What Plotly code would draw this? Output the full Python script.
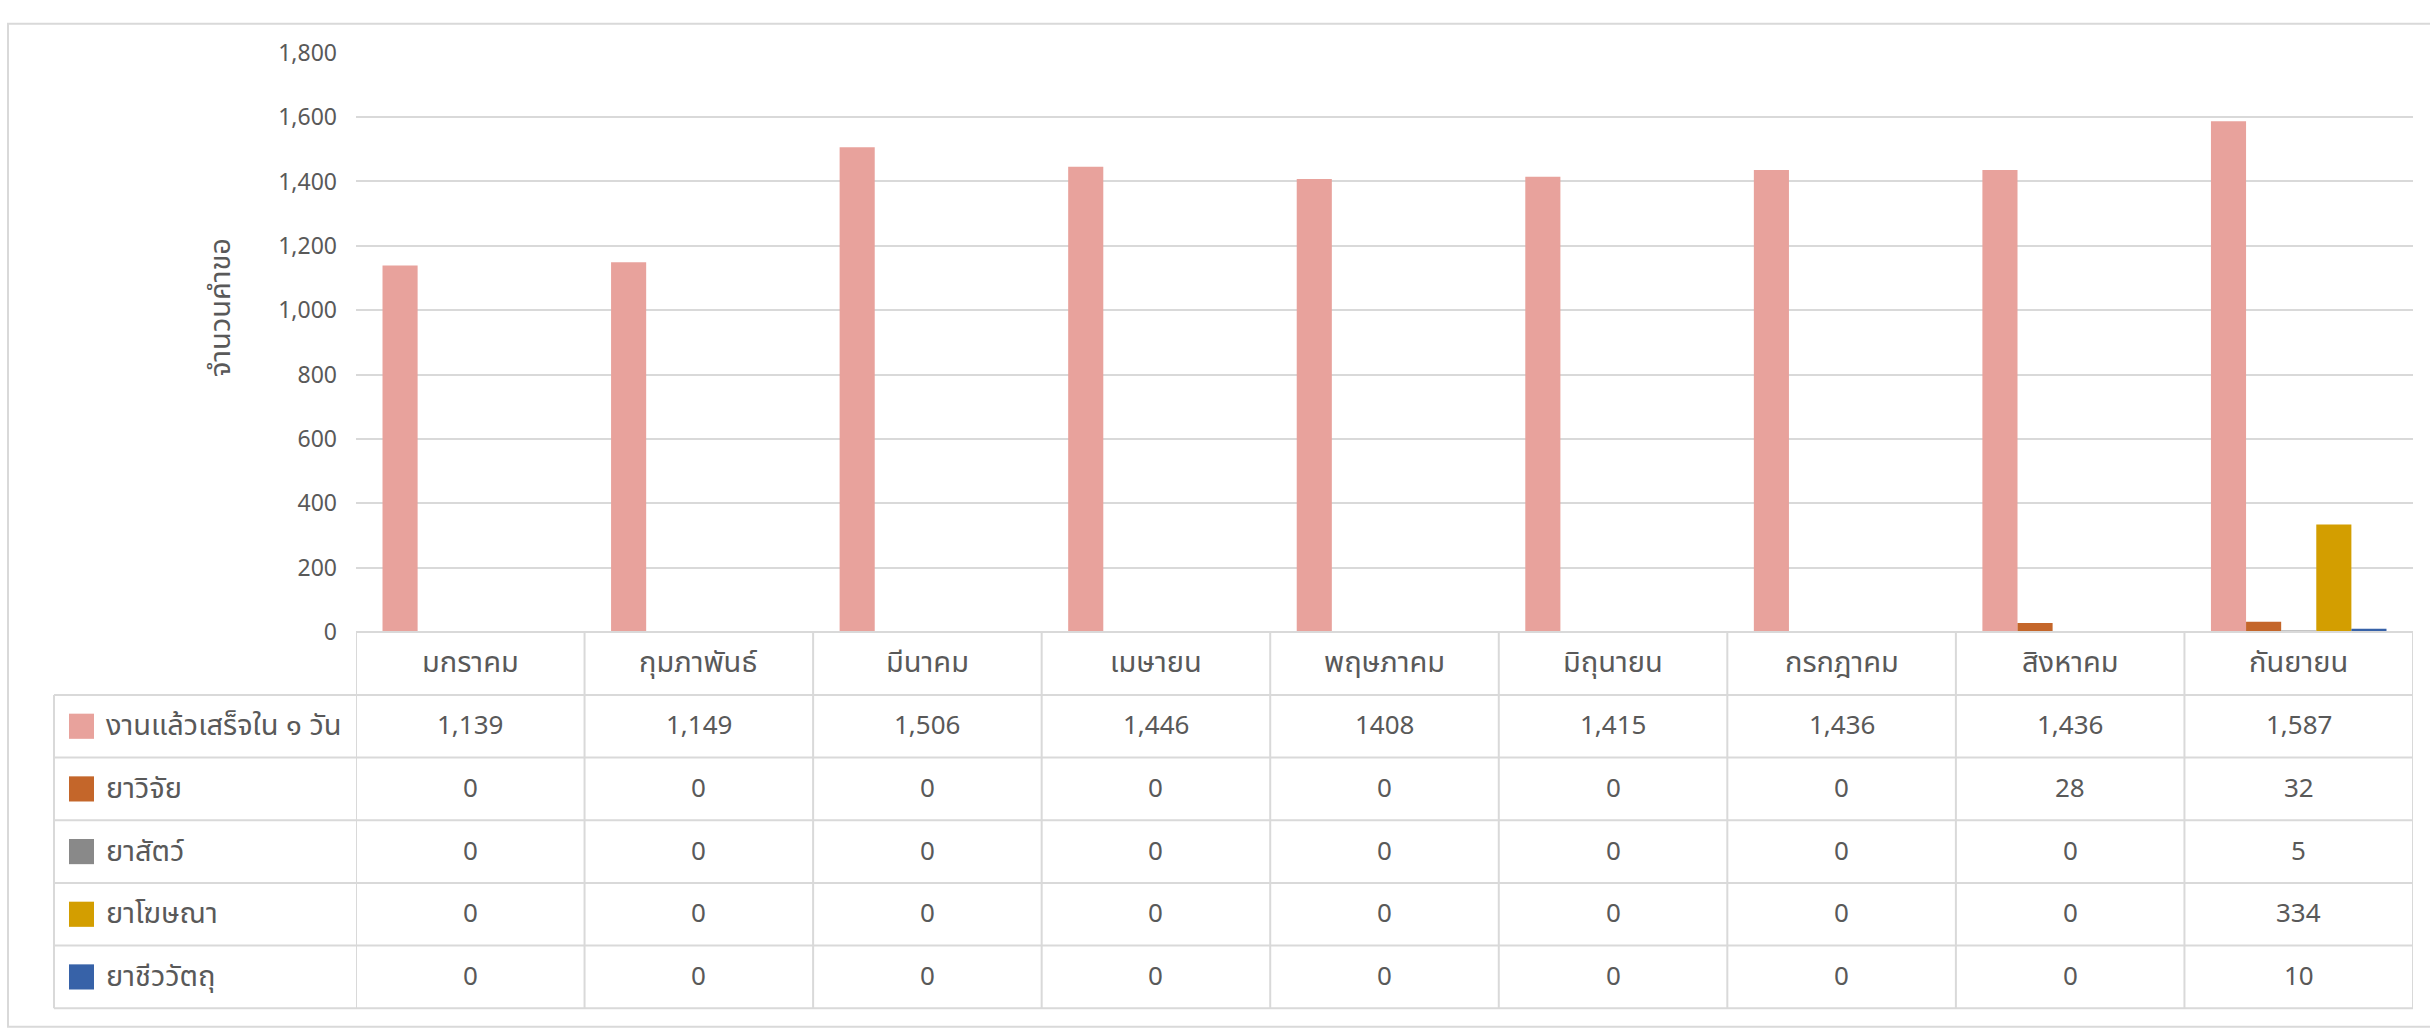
import plotly.graph_objects as go

W, H = 2430, 1034

months = ["มกราคม", "กุมภาพันธ์", "มีนาคม", "เมษายน", "พฤษภาคม",
          "มิถุนายน", "กรกฎาคม", "สิงหาคม", "กันยายน"]

series_names = ["งานแล้วเสร็จใน ๑ วัน", "ยาวิจัย", "ยาสัตว์", "ยาโฆษณา", "ยาชีววัตถุ"]

done_1day = [1139, 1149, 1506, 1446, 1408, 1415, 1436, 1436, 1587]
research = [0, 0, 0, 0, 0, 0, 0, 28, 32]
animal = [0, 0, 0, 0, 0, 0, 0, 0, 5]
advert = [0, 0, 0, 0, 0, 0, 0, 0, 334]
biologic = [0, 0, 0, 0, 0, 0, 0, 0, 10]

# table labels as shown in the source (May is shown without a thousands separator)
done_1day_labels = ["1,139", "1,149", "1,506", "1,446", "1408",
                    "1,415", "1,436", "1,436", "1,587"]

y_ticks = [0, 200, 400, 600, 800, 1000, 1200, 1400, 1600, 1800]

colors = ["#E8A29C", "#C4662A", "#898989", "#D39E00", "#3762A8"]
all_series = [done_1day, research, animal, advert, biologic]

TXT = "#595959"
GRID = "#D9D9D9"
FONT = "Noto Sans Thai, Leelawadee UI, Tahoma, Noto Sans, sans-serif"

# pixel geometry
PL, PR = 356, 2413
PT, PB = 38, 637
ROW_TOP = 702
ROW_H = (1026 - 702) / 5
TABLE_BOTTOM = 1026
LEFT_COL = 54


def px(x):
    return x / W


def py(y):
    return 1 - y / H


fig = go.Figure()
for name, vals, c in zip(series_names, all_series, colors):
    fig.add_trace(go.Bar(x=list(range(len(months))), y=vals, name=name,
                         marker=dict(color=c, line=dict(width=0)),
                         hoverinfo="y+name"))

shapes = []
annotations = []

# outer frame
shapes.append(dict(type="rect", xref="paper", yref="paper",
                   x0=px(8), x1=px(2445), y0=py(1045), y1=py(8),
                   line=dict(color=GRID, width=2), fillcolor="rgba(0,0,0,0)",
                   layer="below"))

# table horizontal lines
for k in range(6):
    yy = ROW_TOP + k * ROW_H
    shapes.append(dict(type="line", xref="paper", yref="paper",
                       x0=px(LEFT_COL), x1=px(PR), y0=py(yy), y1=py(yy),
                       line=dict(color=GRID, width=2)))
# axis line / header top
shapes.append(dict(type="line", xref="paper", yref="paper",
                   x0=px(PL), x1=px(PR), y0=py(PB), y1=py(PB),
                   line=dict(color=GRID, width=2)))
# left vertical line of legend column
shapes.append(dict(type="line", xref="paper", yref="paper",
                   x0=px(LEFT_COL), x1=px(LEFT_COL), y0=py(ROW_TOP), y1=py(TABLE_BOTTOM),
                   line=dict(color=GRID, width=2)))
# column lines
for i in range(len(months) + 1):
    shapes.append(dict(type="line", xref="x", yref="paper",
                       x0=i - 0.5, x1=i - 0.5, y0=py(PB), y1=py(TABLE_BOTTOM),
                       line=dict(color=GRID, width=2)))

# header month labels
for i, m in enumerate(months):
    annotations.append(dict(xref="x", yref="paper", x=i, y=py((PB + ROW_TOP) / 2),
                            text=m, showarrow=False, xanchor="center", yanchor="middle",
                            font=dict(size=29, color=TXT, family=FONT)))

# rows
for r, (name, vals, c) in enumerate(zip(series_names, all_series, colors)):
    yc = ROW_TOP + (r + 0.5) * ROW_H
    shapes.append(dict(type="rect", xref="paper", yref="paper",
                       x0=px(69), x1=px(94), y0=py(yc + 13), y1=py(yc - 13),
                       fillcolor=c, line=dict(width=0)))
    annotations.append(dict(xref="paper", yref="paper", x=px(104), y=py(yc),
                            text=name, showarrow=False, xanchor="left", yanchor="middle",
                            font=dict(size=29, color=TXT, family=FONT)))
    labels = done_1day_labels if r == 0 else [f"{v:,}" for v in vals]
    for i, lab in enumerate(labels):
        annotations.append(dict(xref="x", yref="paper", x=i, y=py(yc),
                                text=lab, showarrow=False, xanchor="center", yanchor="middle",
                                font=dict(size=26, color=TXT, family=FONT)))

# y axis title
annotations.append(dict(xref="paper", yref="paper", x=px(221), y=py(301),
                        text="จำนวนคำขอ", textangle=-90, showarrow=False,
                        xanchor="center", yanchor="middle",
                        font=dict(size=29, color=TXT, family=FONT)))

fig.update_layout(
    width=W, height=H,
    margin=dict(l=0, r=0, t=0, b=0),
    paper_bgcolor="white", plot_bgcolor="white",
    barmode="group", bargap=0.232, bargroupgap=0,
    showlegend=False,
    shapes=shapes, annotations=annotations,
    font=dict(family=FONT, color=TXT),
    xaxis=dict(domain=[px(PL), px(PR)], range=[-0.5, len(months) - 0.5],
               showticklabels=False, showgrid=False, zeroline=False,
               showline=False, ticks="", fixedrange=True),
    yaxis=dict(domain=[py(PB), py(PT)], range=[0, 1800],
               tickvals=y_ticks, ticktext=[f"{v:,}" for v in y_ticks],
               showgrid=True, gridcolor=GRID, gridwidth=2,
               zeroline=False, showline=False, ticks="",
               ticklabelstandoff=18,
               tickfont=dict(size=23, color=TXT, family=FONT), fixedrange=True),
)

fig.write_html("out.html", config={"displayModeBar": False, "responsive": False})

# remove default page margins so the figure sits at the window origin
with open("out.html", "r", encoding="utf-8") as f:
    html = f.read()
html = html.replace("<head>", "<head><style>html,body{margin:0;padding:0;overflow:hidden;}</style>", 1)
with open("out.html", "w", encoding="utf-8") as f:
    f.write(html)
